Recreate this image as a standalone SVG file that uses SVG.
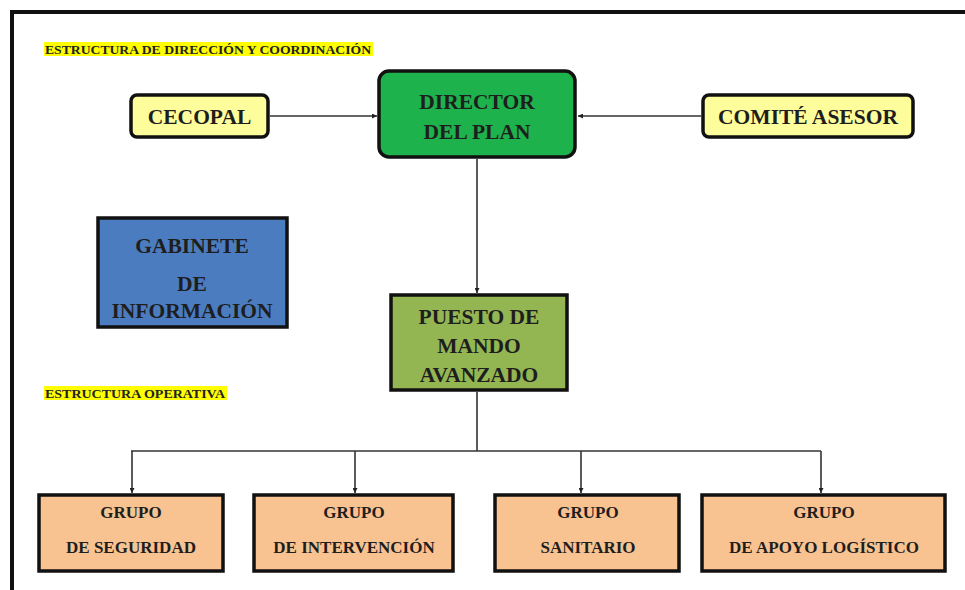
<svg xmlns="http://www.w3.org/2000/svg" width="965" height="590" viewBox="0 0 965 590">
<style>
.t{font-family:"Liberation Serif","Times New Roman",serif;fill:#1e1e1e;text-anchor:middle;font-weight:bold}
.big{font-size:21.5px}
.grp{font-size:17px}
.hd{font-family:"Liberation Serif","Times New Roman",serif;font-size:13px;font-weight:bold;fill:#222}
.box{stroke:#111;stroke-width:3.5}
.ln{fill:none;stroke:#333;stroke-width:1.6}
</style>
<defs>
<marker id="ah" viewBox="0 0 10 10" refX="10" refY="5" markerWidth="5" markerHeight="5" orient="auto" markerUnits="userSpaceOnUse">
<path d="M0,0 L10,5 L0,10 z" fill="#222"/>
</marker>
</defs>
<rect x="0" y="0" width="965" height="590" fill="#fff"/>
<rect x="12" y="12" width="980" height="620" fill="none" stroke="#111" stroke-width="4"/>

<g id="label-direccion">
<rect x="44" y="42" width="329" height="14" fill="#ffff00"/>
<text class="hd" x="45" y="53.5" textLength="326" lengthAdjust="spacingAndGlyphs">ESTRUCTURA DE DIRECCIÓN Y COORDINACIÓN</text>
</g>
<g id="label-operativa">
<rect x="44" y="386" width="183" height="14" fill="#ffff00"/>
<text class="hd" x="45" y="397.5" textLength="180" lengthAdjust="spacingAndGlyphs">ESTRUCTURA OPERATIVA</text>
</g>

<g id="connectors">
<line class="ln" x1="270" y1="116" x2="377" y2="116" marker-end="url(#ah)"/>
<line class="ln" x1="701" y1="116" x2="578" y2="116" marker-end="url(#ah)"/>
<line class="ln" x1="477" y1="159" x2="477" y2="293" marker-end="url(#ah)"/>
<polyline class="ln" points="477,392 477,451"/>
<line class="ln" x1="131" y1="451" x2="821" y2="451"/>
<polyline class="ln" points="132,451 132,493" marker-end="url(#ah)"/>
<polyline class="ln" points="355,451 355,493" marker-end="url(#ah)"/>
<polyline class="ln" points="581,451 581,493" marker-end="url(#ah)"/>
<polyline class="ln" points="821,451 821,493" marker-end="url(#ah)"/>
</g>

<g id="cecopal">
<rect class="box" x="131" y="95" width="137" height="42" rx="6" fill="#fdfd9c"/>
<text class="t big" x="199.5" y="124">CECOPAL</text>
</g>
<g id="director">
<rect class="box" x="379" y="71" width="196" height="86" rx="10" fill="#1db24b"/>
<text class="t big" x="477" y="109">DIRECTOR</text>
<text class="t big" x="477" y="139">DEL PLAN</text>
</g>
<g id="comite">
<rect class="box" x="703" y="95" width="210" height="42" rx="6" fill="#fdfd9c"/>
<text class="t big" x="808" y="124">COMITÉ ASESOR</text>
</g>
<g id="gabinete">
<rect class="box" x="98" y="218" width="189" height="109" fill="#4b7cc0"/>
<text class="t big" x="192" y="253">GABINETE</text>
<text class="t big" x="192" y="291">DE</text>
<text class="t big" x="192" y="318">INFORMACIÓN</text>
</g>
<g id="puesto">
<rect class="box" x="391" y="295" width="176" height="95" fill="#93b653"/>
<text class="t big" x="479" y="324">PUESTO DE</text>
<text class="t big" x="479" y="353">MANDO</text>
<text class="t big" x="479" y="382">AVANZADO</text>
</g>
<g id="seguridad">
<rect class="box" x="39" y="495" width="184" height="76" fill="#f8c391"/>
<text class="t grp" x="131" y="518">GRUPO</text>
<text class="t grp" x="131" y="553">DE SEGURIDAD</text>
</g>
<g id="intervencion">
<rect class="box" x="254" y="495" width="199" height="76" fill="#f8c391"/>
<text class="t grp" x="354" y="518">GRUPO</text>
<text class="t grp" x="354" y="553">DE INTERVENCIÓN</text>
</g>
<g id="sanitario">
<rect class="box" x="495" y="495" width="184" height="76" fill="#f8c391"/>
<text class="t grp" x="588" y="518">GRUPO</text>
<text class="t grp" x="588" y="553">SANITARIO</text>
</g>
<g id="apoyo">
<rect class="box" x="702" y="495" width="243" height="76" fill="#f8c391"/>
<text class="t grp" x="824" y="518">GRUPO</text>
<text class="t grp" x="824" y="553">DE APOYO LOGÍSTICO</text>
</g>
</svg>
